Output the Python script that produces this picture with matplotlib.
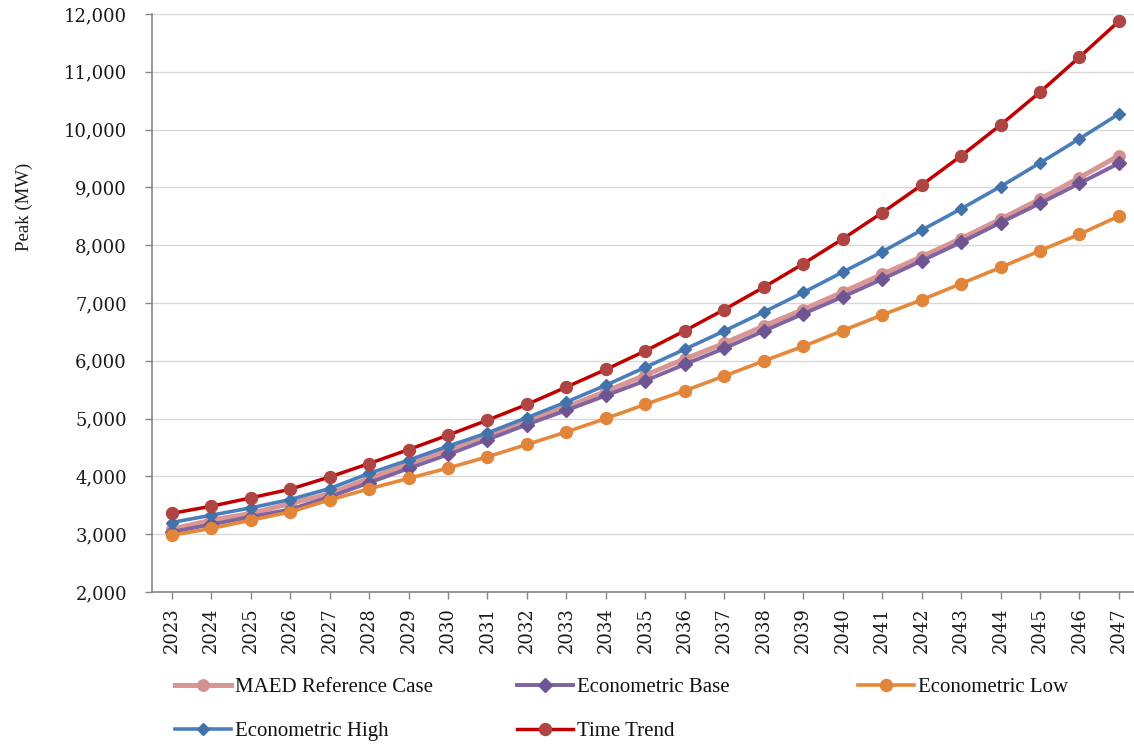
import matplotlib
matplotlib.use("Agg")
import matplotlib.pyplot as plt
from matplotlib.ticker import FuncFormatter, MultipleLocator

years = list(range(2023, 2048))

maed_ref = [3087, 3242, 3358, 3530, 3703, 3966, 4213, 4466, 4713, 4954, 5201, 5470,
            5754, 6031, 6303, 6602, 6885, 7188, 7495, 7799, 8115, 8450, 8797, 9168, 9550]
econ_base = [3040, 3168, 3300, 3427, 3645, 3891, 4138, 4379, 4638, 4897, 5144, 5400,
             5656, 5939, 6216, 6516, 6813, 7106, 7412, 7730, 8050, 8390, 8725, 9070, 9418]
econ_low = [2983, 3099, 3242, 3385, 3592, 3785, 3966, 4144, 4339, 4552, 4770, 5002,
            5247, 5483, 5737, 5997, 6251, 6522, 6793, 7055, 7335, 7615, 7905, 8190, 8503]
econ_high = [3202, 3329, 3455, 3600, 3790, 4052, 4282, 4523, 4753, 5017, 5287, 5578,
             5888, 6200, 6516, 6844, 7182, 7534, 7886, 8261, 8630, 9015, 9424, 9842, 10272]
time_trend = [3360, 3484, 3628, 3778, 3990, 4222, 4464, 4714, 4973, 5245, 5546, 5850,
              6172, 6520, 6887, 7273, 7678, 8108, 8562, 9040, 9545, 10080, 10650, 11255, 11876]

series = [
    ("MAED Reference Case", maed_ref, dict(color="#D99694", lw=3.6, marker="o", ms=8.2,
                                           mfc="#D39190", mec="#D39190")),
    ("Econometric Base", econ_base, dict(color="#8064A2", lw=2.8, marker="D", ms=6.8,
                                         mfc="#6F5493", mec="#6F5493")),
    ("Econometric Low", econ_low, dict(color="#E5883A", lw=2.6, marker="o", ms=8.6,
                                       mfc="#E0853A", mec="#E0853A")),
    ("Econometric High", econ_high, dict(color="#4A7EBB", lw=2.6, marker="D", ms=6.2,
                                         mfc="#4372AA", mec="#4372AA")),
    ("Time Trend", time_trend, dict(color="#C00000", lw=2.5, marker="o", ms=8.6,
                                    mfc="#AF4542", mec="#AF4542")),
]

W, H = 1134, 746
fig = plt.figure(figsize=(W / 100, H / 100), dpi=100)
left_px, right_px, top_px, bot_px = 152, 1138.7, 14, 592
ax = fig.add_axes([left_px / W, 1 - bot_px / H, (right_px - left_px) / W, (bot_px - top_px) / H])

x = list(range(len(years)))
handles = {}
for name, vals, st in series:
    (h,) = ax.plot(x, vals, label=name, solid_joinstyle="round", zorder=3, **st)
    handles[name] = h

ax.set_xlim(-0.5, len(years) - 0.5)
ax.set_ylim(2000, 12000)
ax.yaxis.set_major_locator(MultipleLocator(1000))
ax.yaxis.set_major_formatter(FuncFormatter(lambda v, p: f"{int(v):,}"))
ax.set_xticks(x)
ax.set_xticklabels([str(y) for y in years], rotation=90, fontfamily="DejaVu Serif",
                   fontsize=13, color="#1a1a1a")
for lab in ax.get_yticklabels():
    lab.set_fontfamily("DejaVu Serif")
    lab.set_fontsize(13)
    lab.set_color("#1a1a1a")

ax.grid(axis="y", color="#D9D9D9", lw=1.0, zorder=0)
ax.set_axisbelow(True)
for s in ["top", "right"]:
    ax.spines[s].set_visible(False)
for s in ["left", "bottom"]:
    ax.spines[s].set_color("#868686")
    ax.spines[s].set_linewidth(1.2)
ax.tick_params(axis="both", direction="out", length=5, width=1, color="#868686")
ax.tick_params(axis="y", pad=13)
ax.tick_params(axis="x", pad=6)

ax.set_ylabel("Peak (MW)", fontfamily="Liberation Serif", fontsize=13.5, color="#1a1a1a")
ax.yaxis.set_label_coords((33 - left_px) / (right_px - left_px), (bot_px - 207) / (bot_px - top_px))

# Legend: one entry each, Excel-style fixed grid
legend_pos = [
    ("MAED Reference Case", 175, 687),
    ("Econometric Base", 517, 687),
    ("Econometric Low", 858, 687),
    ("Econometric High", 175, 731),
    ("Time Trend", 517, 731),
]
fs = 15
for name, px, py in legend_pos:
    leg = fig.legend([handles[name]], [name], loc="center left",
                     bbox_to_anchor=(px / W, 1 - py / H), frameon=False,
                     borderpad=0, borderaxespad=0, handlelength=2.7, handletextpad=0.2,
                     prop={"family": "Liberation Serif", "size": fs})
    for t in leg.get_texts():
        t.set_color("#111111")

fig.savefig("out.png", dpi=100)
